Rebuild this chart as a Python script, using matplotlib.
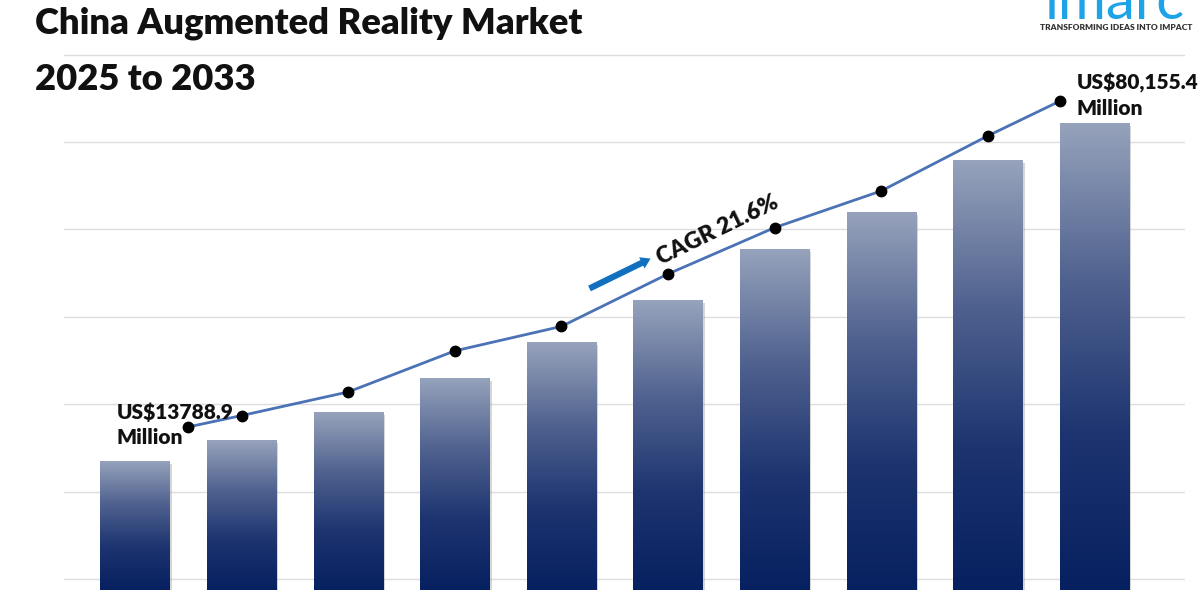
import matplotlib
matplotlib.use("Agg")
import matplotlib.pyplot as plt
import numpy as np
from matplotlib.colors import LinearSegmentedColormap

# chart values (y in grid units, one unit per gridline)
years = list(range(2024, 2034))
bar_heights = [1.35, 1.59, 1.91, 2.30, 2.71, 3.19, 3.78, 4.20, 4.79, 5.22]
trend_values = [1.74, 1.87, 2.14, 2.61, 2.89, 3.49, 4.02, 4.44, 5.07, 5.47]
grid_levels = [0, 1, 2, 3, 4, 5, 6]

title_line1 = "China Augmented Reality Market"
title_line2 = "2025 to 2033"
start_label = "US$13788.9\nMillion"
end_label = "US$80,155.4\nMillion"
cagr_label = "CAGR 21.6%"

plt.rcParams['font.family'] = ['Lato', 'DejaVu Sans']

fig = plt.figure(figsize=(12, 6), dpi=100)
ax = fig.add_axes([64 / 1200, 10 / 600, 1121 / 1200, 550 / 600])

base = -0.126
x = np.arange(len(years))
width = 0.65

# horizontal gridlines
for g in grid_levels:
    ax.axhline(g, color='#dedede', lw=1, zorder=0)

# soft shadow under the bars
heights = np.array(bar_heights) - base
ax.bar(x + 0.02, heights, bottom=base - 0.035, width=width,
       color='#8c8c8c', alpha=0.35, zorder=1, linewidth=0)

# gradient bars
cmap = LinearSegmentedColormap.from_list(
    'bars', ['#07205f', '#1d3470', '#50628f', '#97a3bc'])
grad = np.linspace(0, 1, 256).reshape(-1, 1)
bars = ax.bar(x, heights, bottom=base, width=width, color='none',
              linewidth=0, zorder=2)
for b in bars:
    x0, y0 = b.get_x(), b.get_y()
    im = ax.imshow(grad, extent=[x0, x0 + b.get_width(), y0, y0 + b.get_height()],
                   origin='lower', aspect='auto', cmap=cmap, zorder=2)
    im.set_clip_path(b)

# trend line; end points sit inside the outer bars
line_x = x.astype(float)
line_x[0] += 0.5
line_x[-1] -= 0.32
ax.plot(line_x, trend_values, color='#4a72b5', lw=2, zorder=3)
ax.plot(line_x, trend_values, 'o', color='black', ms=7.5, zorder=4)

# CAGR arrow and label
ax.annotate('', xy=(4.86, 3.68), xytext=(4.24, 3.31),
            arrowprops=dict(arrowstyle='simple,head_length=0.7,head_width=0.9,tail_width=0.45',
                            color='#1170c0', lw=0), zorder=5)
ax.text(5.47, 3.99, cagr_label, rotation=26, ha='center', va='center',
        fontsize=16.5, fontweight='heavy', color='#111111', zorder=5,
        rotation_mode='anchor')

ax.set_xlim(-0.666, 9.85)
ax.set_ylim(base, 6.167)
ax.axis('off')

# value labels
fig.text(117 / 1200, 1 - 403 / 600, start_label, ha='left', va='top',
         fontsize=15, fontweight='heavy', color='#111111', linespacing=1.35)
fig.text(1077 / 1200, 1 - 73 / 600, end_label, ha='left', va='top',
         fontsize=15, fontweight='heavy', color='#111111', linespacing=1.35)

# title
t1 = fig.text(35 / 1200, 1 - 34 / 600, title_line1, ha='left', va='baseline',
              fontsize=23, fontweight='heavy', color='#111111')
t2 = fig.text(35 / 1200, 1 - 90 / 600, title_line2, ha='left', va='baseline',
              fontsize=23, fontweight='heavy', color='#111111')

# logo
logo = fig.text(1115 / 1200, 1 - 19 / 600, "imarc", ha='center', va='baseline',
                fontsize=40, color='#1ea3e8')
fig.text(1116 / 1200, 1 - 28 / 600, "TRANSFORMING IDEAS INTO IMPACT",
         ha='center', va='center', fontsize=6, fontweight='heavy', color='#333333')

# fit title and logo widths to the reference
fig.canvas.draw()
r = fig.canvas.get_renderer()
w = t1.get_window_extent(r).width
scale = 547 / w
t1.set_fontsize(t1.get_fontsize() * scale)
t2.set_fontsize(t2.get_fontsize() * scale)
lw_ = logo.get_window_extent(r).width
logo.set_fontsize(logo.get_fontsize() * 140 / lw_)

fig.savefig('out.png', dpi=100)
